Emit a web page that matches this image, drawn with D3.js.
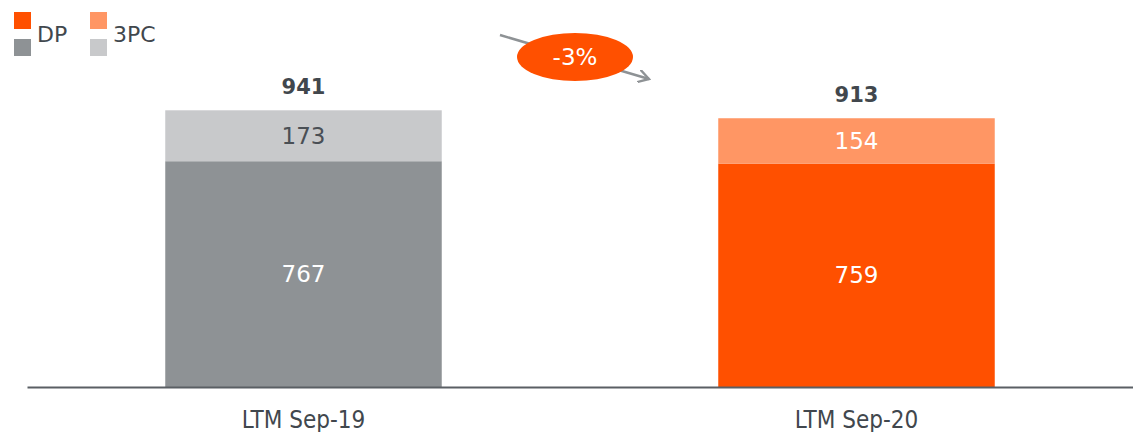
<!DOCTYPE html>
<html>
<head>
<meta charset="utf-8">
<script src="https://cdn.jsdelivr.net/npm/d3@7"></script>
<style>
  body { margin: 0; background: #fff; }
  svg text { font-family: "DejaVu Sans", Verdana, sans-serif; }
</style>
</head>
<body>
<svg id="the-svg" width="1133" height="432"></svg>
<script>
var categories = ["LTM Sep-19", "LTM Sep-20"];
var dpValues = [767, 759];
var pcValues = [173, 154];
var totals = [941, 913];
var changeLabel = "-3%";

var colorsDark = ["#8e9295", "#ff5000"];
var colorsLight = ["#c8c9cb", "#ff9664"];
var labelColors = ["#4a4f55", "#ffffff"];
var textDark = "#41474d";

var theSvg = d3.select("#the-svg");

var x = d3.scaleBand()
    .domain(categories)
    .range([27, 1133])
    .paddingInner(0.5)
    .paddingOuter(0.25);

var y = d3.scaleLinear()
    .domain([0, 941])
    .range([387, 110]);

// stacked bars
var groups = theSvg.selectAll(".bar")
    .data(categories)
    .enter().append("g")
        .attr("class", "bar");

groups.append("rect")
    .attr("x", function(d) { return x(d); })
    .attr("width", x.bandwidth())
    .attr("y", function(d, i) { return y(dpValues[i]); })
    .attr("height", function(d, i) { return y(0) - y(dpValues[i]); })
    .attr("fill", function(d, i) { return colorsDark[i]; });

groups.append("rect")
    .attr("x", function(d) { return x(d); })
    .attr("width", x.bandwidth())
    .attr("y", function(d, i) { return y(dpValues[i] + pcValues[i]); })
    .attr("height", function(d, i) { return y(dpValues[i]) - y(dpValues[i] + pcValues[i]); })
    .attr("fill", function(d, i) { return colorsLight[i]; });

groups.append("text")
    .attr("x", function(d) { return x(d) + x.bandwidth() / 2; })
    .attr("y", function(d, i) { return y(dpValues[i] / 2); })
    .attr("dy", "0.35em")
    .attr("text-anchor", "middle")
    .attr("font-size", 23)
    .attr("fill", "#ffffff")
    .text(function(d, i) { return dpValues[i]; });

groups.append("text")
    .attr("x", function(d) { return x(d) + x.bandwidth() / 2; })
    .attr("y", function(d, i) { return y(dpValues[i] + pcValues[i] / 2); })
    .attr("dy", "0.35em")
    .attr("text-anchor", "middle")
    .attr("font-size", 23)
    .attr("fill", function(d, i) { return labelColors[i]; })
    .text(function(d, i) { return pcValues[i]; });

groups.append("text")
    .attr("x", function(d) { return x(d) + x.bandwidth() / 2; })
    .attr("y", function(d, i) { return y(totals[i]) - 16; })
    .attr("text-anchor", "middle")
    .attr("font-size", 21)
    .attr("font-weight", "bold")
    .attr("fill", textDark)
    .text(function(d, i) { return totals[i]; });

// axis
var axis = theSvg.append("g")
    .attr("transform", "translate(0," + y(0) + ")")
    .call(d3.axisBottom(x).tickSize(0).tickPadding(24));
axis.select(".domain")
    .attr("stroke", "#5a5f64")
    .attr("stroke-width", 2);
axis.selectAll("text")
    .attr("font-size", 24)
    .attr("fill", textDark)
    .style("font-family", "'DejaVu Sans Condensed', 'DejaVu Sans', sans-serif");

// legend
var legendItems = [
    { label: "DP", x: 14, top: colorsDark[1], bottom: colorsDark[0] },
    { label: "3PC", x: 90, top: colorsLight[1], bottom: colorsLight[0] }
];
var legend = theSvg.selectAll(".legend")
    .data(legendItems)
    .enter().append("g")
        .attr("class", "legend")
        .attr("transform", function(d) { return "translate(" + d.x + ",0)"; });
legend.append("rect")
    .attr("y", 12).attr("width", 17).attr("height", 17)
    .attr("fill", function(d) { return d.top; });
legend.append("rect")
    .attr("y", 39).attr("width", 17).attr("height", 17)
    .attr("fill", function(d) { return d.bottom; });
legend.append("text")
    .attr("x", 23)
    .attr("y", 34)
    .attr("dy", "0.35em")
    .attr("font-size", 22)
    .attr("fill", textDark)
    .text(function(d) { return d.label; });

// change arrow
var defs = theSvg.append("defs");
defs.append("marker")
    .attr("id", "arrowhead")
    .attr("viewBox", "0 0 12 12")
    .attr("refX", 10).attr("refY", 6)
    .attr("markerWidth", 13).attr("markerHeight", 13)
    .attr("markerUnits", "userSpaceOnUse")
    .attr("orient", "auto")
    .append("path")
        .attr("d", "M0,0 L10,6 L0,12")
        .attr("fill", "none")
        .attr("stroke", "#8e9295")
        .attr("stroke-width", 2.2);

theSvg.append("line")
    .attr("x1", 500).attr("y1", 35)
    .attr("x2", 649).attr("y2", 79)
    .attr("stroke", "#8e9295")
    .attr("stroke-width", 2.5)
    .attr("marker-end", "url(#arrowhead)");

theSvg.append("ellipse")
    .attr("cx", 575).attr("cy", 57)
    .attr("rx", 58).attr("ry", 24)
    .attr("fill", "#ff5000");

theSvg.append("text")
    .attr("x", 575).attr("y", 57)
    .attr("dy", "0.35em")
    .attr("text-anchor", "middle")
    .attr("font-size", 23)
    .attr("fill", "#ffffff")
    .text(changeLabel);
</script>
</body>
</html>
